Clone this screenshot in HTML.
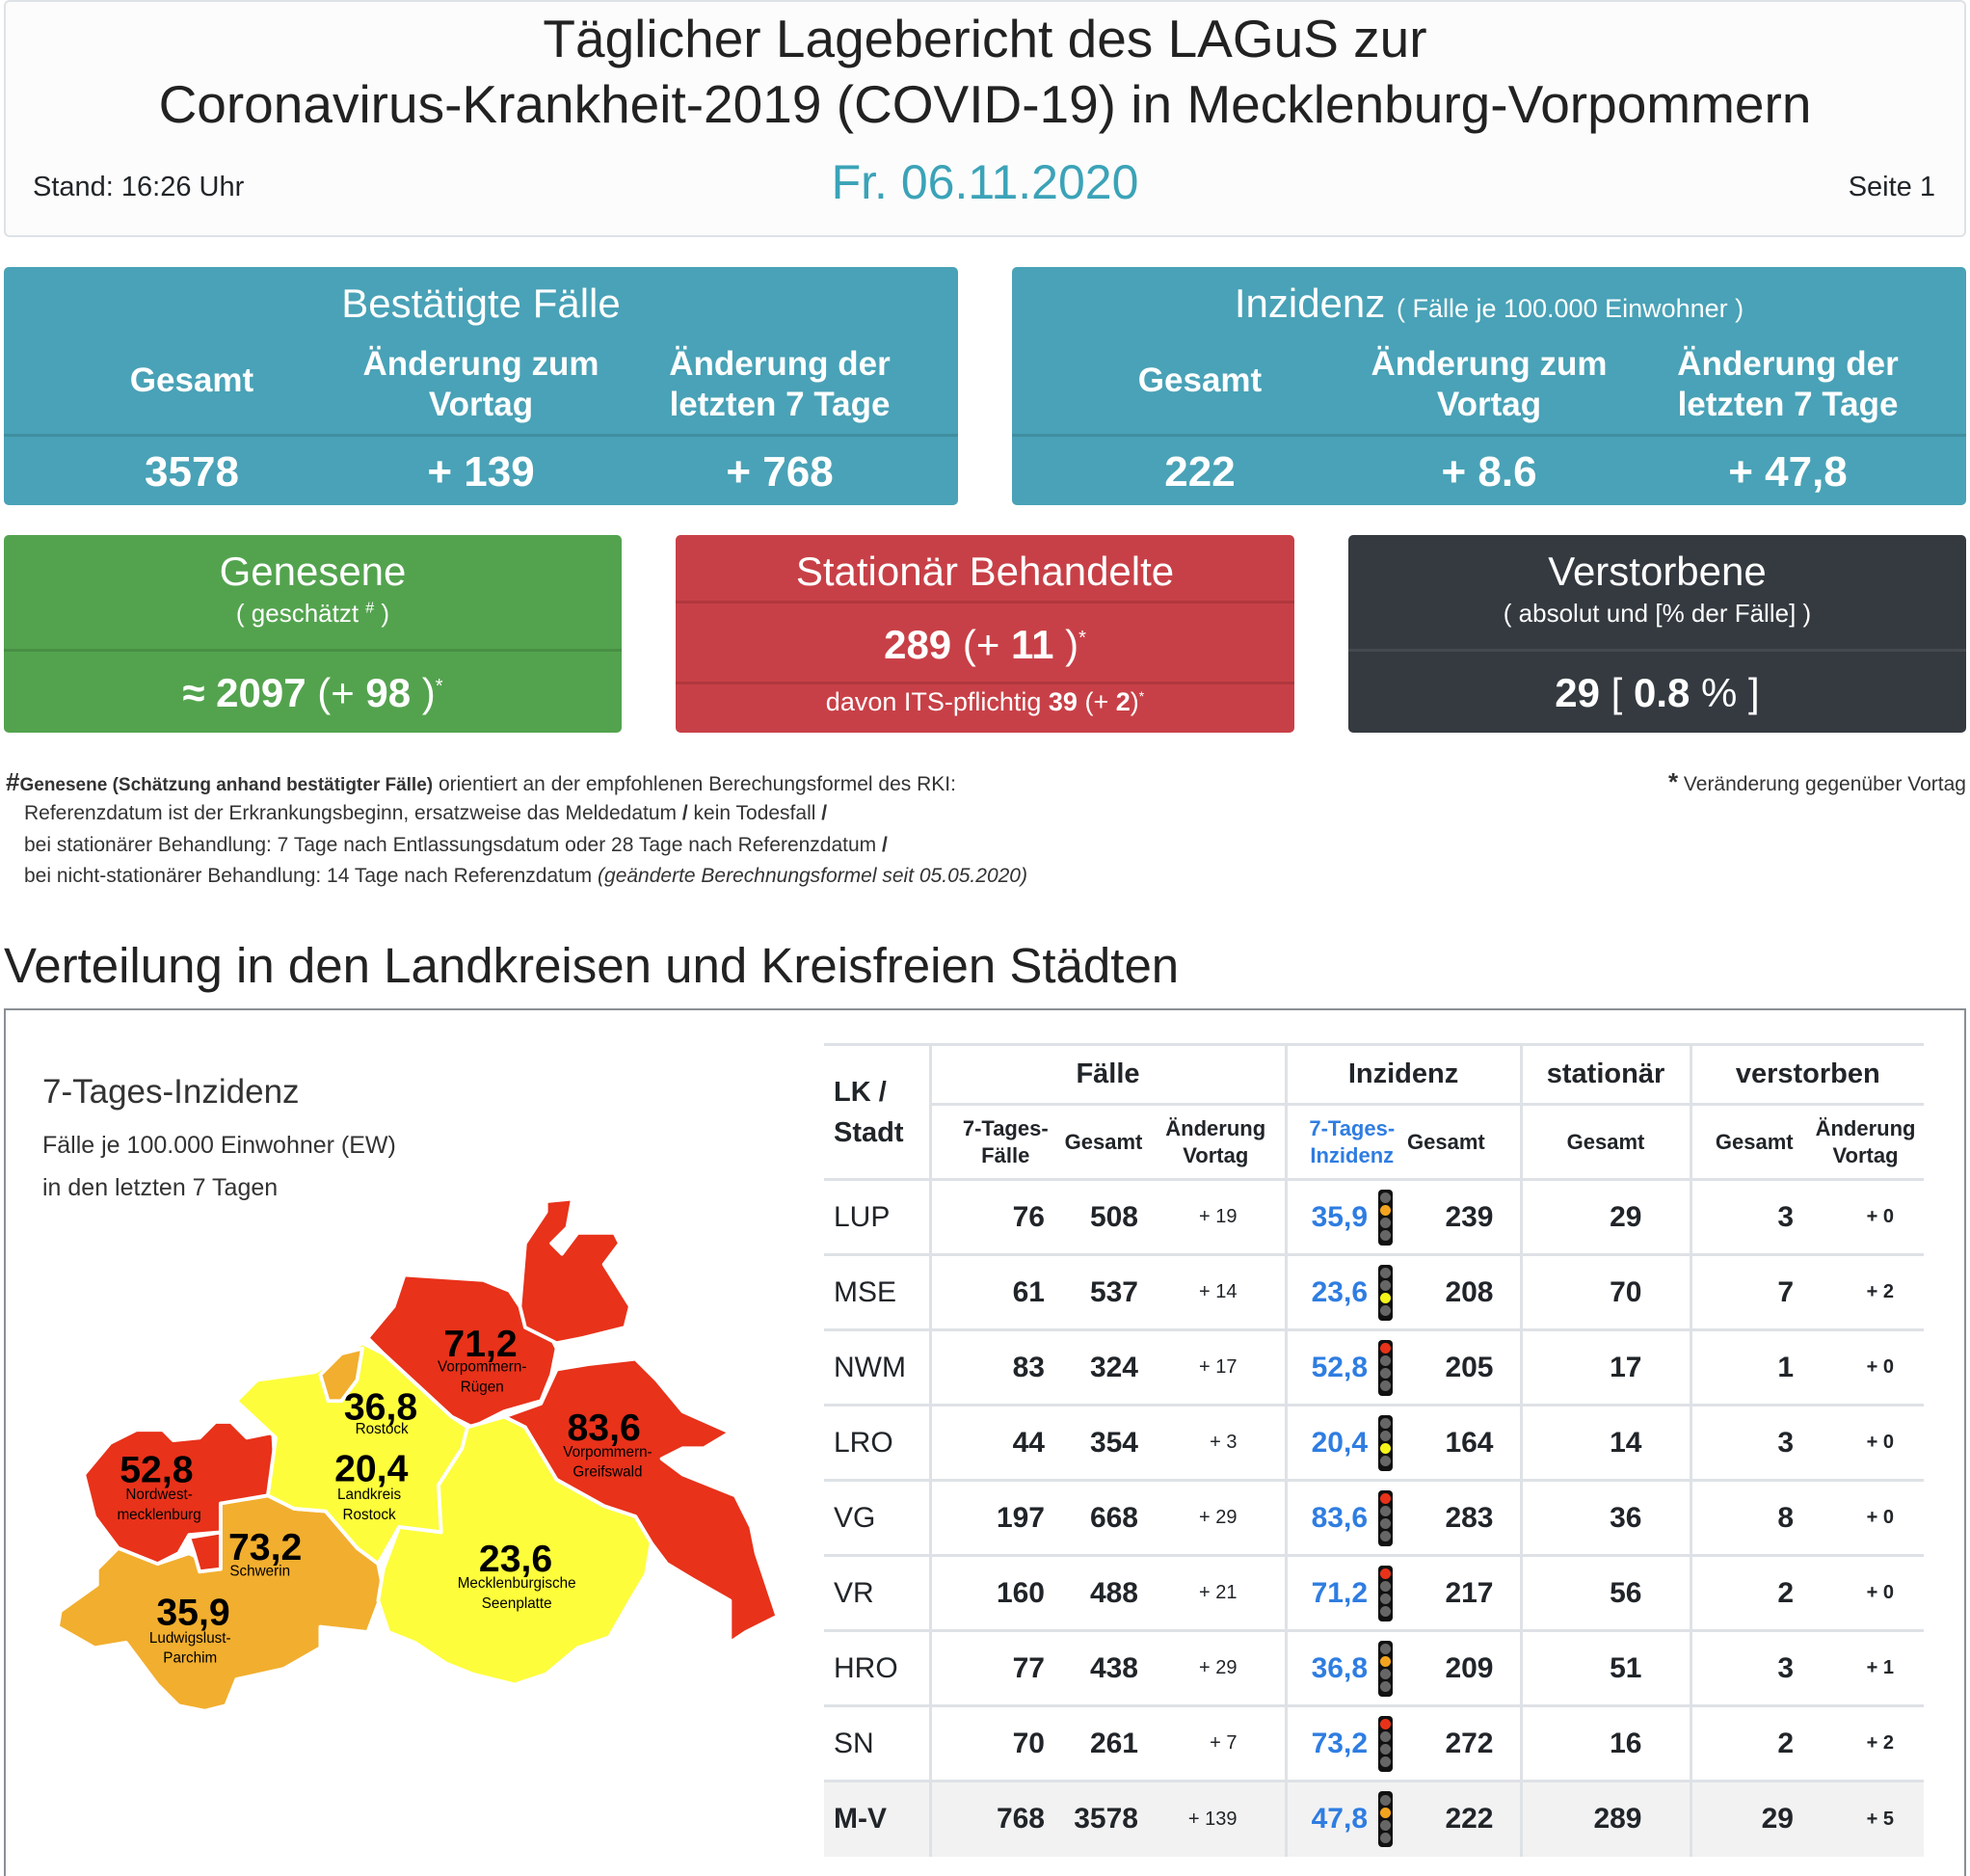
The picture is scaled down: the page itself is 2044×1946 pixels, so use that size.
<!DOCTYPE html>
<html><head><meta charset="utf-8">
<style>
*{box-sizing:border-box;margin:0;padding:0}
body{width:2044px;height:1934px;background:#fff;font-family:"Liberation Sans",sans-serif;color:#212529;position:relative;overflow:hidden}
.a{position:absolute}
.c{text-align:center}
.box{position:absolute;border-radius:5px;color:#fff}
.hl{position:absolute;left:0;right:0;height:3px;background:rgba(0,0,0,0.12)}
table{position:absolute;left:855px;top:1082px;width:1141px;border-collapse:collapse;table-layout:fixed;font-size:30px}
td,th{border-top:3px solid #dee2e6;vertical-align:middle;padding:0}
th{font-weight:bold}
td.b{font-weight:bold;text-align:right}
.vl{border-left:3px solid #dee2e6}
.tl{display:inline-block;width:15px;height:58px;background:#111;border-radius:4px;vertical-align:middle;padding:2px 2px}
.tl i{display:block;width:11px;height:11px;border-radius:50%;background:#666;margin:1.5px 0 2px}
.ft{font-size:21px;color:#333;line-height:32.7px}
</style></head><body>
<div class="a" style="left:4px;top:0;width:2036px;height:246px;border:2px solid #dee2e6;border-radius:6px;background:#fcfcfc"></div>
<div class="a c" style="left:0;top:6px;width:2044px;font-size:55px;line-height:68px;color:#222">Täglicher Lagebericht des LAGuS zur<br>Coronavirus-Krankheit-2019 (COVID-19) in Mecklenburg-Vorpommern</div>
<div class="a" style="left:34px;top:178px;font-size:29px">Stand: 16:26 Uhr</div>
<div class="a c" style="left:0;top:160px;width:2044px;font-size:50px;color:#3ba3b8">Fr. 06.11.2020</div>
<div class="a" style="right:36px;top:178px;font-size:29px">Seite 1</div>

<div class="box" style="left:4px;top:277px;width:990px;height:247px;background:#49a2b7">
<div class="a c" style="left:0;width:100%;top:14px;font-size:42px">Bestätigte Fälle</div>
<div class="a c" style="left:30px;width:330px;top:98px;font-size:35px;font-weight:bold">Gesamt</div>
<div class="a c" style="left:330px;width:330px;top:80px;font-size:35px;font-weight:bold;line-height:42px">Änderung zum<br>Vortag</div>
<div class="a c" style="left:640px;width:330px;top:80px;font-size:35px;font-weight:bold;line-height:42px">Änderung der<br>letzten 7 Tage</div>
<div class="hl" style="top:173px"></div>
<div class="a c" style="left:30px;width:330px;top:188px;font-size:44px;font-weight:bold">3578</div>
<div class="a c" style="left:330px;width:330px;top:188px;font-size:44px;font-weight:bold">+ 139</div>
<div class="a c" style="left:640px;width:330px;top:188px;font-size:44px;font-weight:bold">+ 768</div>
</div>
<div class="box" style="left:1050px;top:277px;width:990px;height:247px;background:#49a2b7">
<div class="a c" style="left:0;width:100%;top:14px;font-size:42px">Inzidenz <span style="font-size:27px">( Fälle je 100.000 Einwohner )</span></div>
<div class="a c" style="left:30px;width:330px;top:98px;font-size:35px;font-weight:bold">Gesamt</div>
<div class="a c" style="left:330px;width:330px;top:80px;font-size:35px;font-weight:bold;line-height:42px">Änderung zum<br>Vortag</div>
<div class="a c" style="left:640px;width:330px;top:80px;font-size:35px;font-weight:bold;line-height:42px">Änderung der<br>letzten 7 Tage</div>
<div class="hl" style="top:173px"></div>
<div class="a c" style="left:30px;width:330px;top:188px;font-size:44px;font-weight:bold">222</div>
<div class="a c" style="left:330px;width:330px;top:188px;font-size:44px;font-weight:bold">+ 8.6</div>
<div class="a c" style="left:640px;width:330px;top:188px;font-size:44px;font-weight:bold">+ 47,8</div>
</div>

<div class="box" style="left:4px;top:555px;width:641px;height:205px;background:#53a34e">
<div class="a c" style="left:0;width:100%;top:14px;font-size:42px">Genesene</div>
<div class="a c" style="left:0;width:100%;top:66px;font-size:26px">( geschätzt <sup style="font-size:16px">#</sup> )</div>
<div class="hl" style="top:118px"></div>
<div class="a c" style="left:0;width:100%;top:140px;font-size:42px"><b>≈ 2097</b> (+ <b>98</b> )<sup style="font-size:20px">*</sup></div>
</div>
<div class="box" style="left:701px;top:555px;width:642px;height:205px;background:#c84047">
<div class="a c" style="left:0;width:100%;top:14px;font-size:42px">Stationär Behandelte</div>
<div class="hl" style="top:68px"></div>
<div class="a c" style="left:0;width:100%;top:90px;font-size:42px"><b>289</b> (+ <b>11</b> )<sup style="font-size:20px">*</sup></div>
<div class="hl" style="top:152px"></div>
<div class="a c" style="left:0;width:100%;top:158px;font-size:27px">davon ITS-pflichtig <b>39</b> (+ <b>2</b>)<sup style="font-size:14px">*</sup></div>
</div>
<div class="box" style="left:1399px;top:555px;width:641px;height:205px;background:#343a40">
<div class="a c" style="left:0;width:100%;top:14px;font-size:42px">Verstorbene</div>
<div class="a c" style="left:0;width:100%;top:66px;font-size:26px">( absolut und [% der Fälle] )</div>
<div class="hl" style="top:118px;background:rgba(255,255,255,0.08)"></div>
<div class="a c" style="left:0;width:100%;top:140px;font-size:42px"><b>29</b> [ <b>0.8</b> % ]</div>
</div>

<div class="a ft" style="left:6px;top:795px"><b style="font-size:26px">#</b><b style="font-size:19px">Genesene (Schätzung anhand bestätigter Fälle)</b> orientiert an der empfohlenen Berechungsformel des RKI:</div>
<div class="a ft" style="left:25px;top:828px">Referenzdatum ist der Erkrankungsbeginn, ersatzweise das Meldedatum <b>/</b> kein Todesfall <b>/</b><br>bei stationärer Behandlung: 7 Tage nach Entlassungsdatum oder 28 Tage nach Referenzdatum <b>/</b><br>bei nicht-stationärer Behandlung: 14 Tage nach Referenzdatum <i>(geänderte Berechnungsformel seit 05.05.2020)</i></div>
<div class="a ft" style="right:4px;top:795px"><b style="font-size:26px">*</b> Veränderung gegenüber Vortag</div>

<div class="a" style="left:4px;top:972px;font-size:51px;color:#222">Verteilung in den Landkreisen und Kreisfreien Städten</div>
<div class="a" style="left:4px;top:1046px;width:2036px;height:900px;border:2px solid #8a8f94;border-bottom:none"></div>

<div class="a" style="left:44px;top:1113px;font-size:35px;color:#333">7-Tages-Inzidenz</div>
<div class="a" style="left:44px;top:1166px;font-size:25px;color:#333;line-height:44px">Fälle je 100.000 Einwohner (EW)<br>in den letzten 7 Tagen</div>

<svg class="a" style="left:0;top:0" width="2044" height="1934">
<g transform="translate(0,1050) scale(0.5449)" stroke="#fff" stroke-width="7" stroke-linejoin="round">
<polygon fill="#f2ae2e" points="110,1170 115,1140 185,1090 185,1060 225,1020 300,1050 360,1030 420,1060 420,935 510,920 560,945 620,950 680,1020 720,1050 730,1100 700,1180 610,1170 610,1210 540,1250 450,1270 430,1320 390,1330 340,1320 300,1280 240,1200 180,1210"/>
<polygon fill="#e8321a" points="160,880 210,820 260,795 310,795 330,815 380,810 410,780 440,780 470,810 520,800 525,900 510,920 420,935 420,990 360,995 340,1030 300,1050 225,1020 180,960"/>
<polygon fill="#e8321a" points="360,1000 420,990 420,1060 380,1065 370,1030"/>
<polygon fill="#fdfd3c" points="450,740 490,700 600,685 640,660 690,630 730,650 860,770 890,790 880,830 835,900 840,990 760,980 720,1050 680,1020 620,950 560,945 510,920 525,810"/>
<polygon fill="#f2ae2e" points="610,690 650,650 690,640 680,700 650,740 625,740"/>
<polygon fill="#e8321a" points="700,620 750,560 770,500 920,510 970,530 990,560 1040,600 1060,640 1050,690 1030,740 960,760 900,790 860,770 730,650"/>
<polygon fill="#e8321a" points="990,560 1000,440 1040,380 1040,360 1090,355 1080,410 1050,440 1070,460 1100,420 1170,420 1180,440 1150,480 1200,560 1190,600 1110,620 1060,630 1000,600"/>
<polygon fill="#e8321a" points="960,770 1030,745 1060,680 1120,670 1210,660 1250,700 1300,760 1390,800 1340,830 1300,830 1260,850 1300,880 1400,920 1430,980 1440,1030 1460,1090 1480,1150 1420,1180 1390,1200 1390,1120 1320,1080 1270,1050 1240,1010 1210,960 1150,940 1060,890 1030,840 1000,790"/>
<polygon fill="#fdfd3c" points="890,790 960,770 1000,790 1030,840 1060,890 1150,940 1210,960 1240,1010 1230,1070 1200,1120 1160,1190 1100,1210 1040,1260 980,1280 900,1260 850,1240 790,1200 740,1180 720,1120 730,1060 760,980 840,990 835,900 880,830"/>
</g>
<g transform="translate(0,1050) scale(0.5449)" font-family="Liberation Sans,sans-serif" text-anchor="middle" fill="#000">
<g font-size="72" font-weight="bold">
<text x="915" y="655">71,2</text><text x="725" y="775">36,8</text><text x="1150" y="815">83,6</text>
<text x="298" y="895">52,8</text><text x="707" y="893">20,4</text><text x="505" y="1042">73,2</text>
<text x="982" y="1064">23,6</text><text x="368" y="1166">35,9</text></g>
<g font-size="28">
<text x="918" y="684">Vorpommern-</text><text x="918" y="722">Rügen</text>
<text x="727" y="802">Rostock</text>
<text x="1157" y="846">Vorpommern-</text><text x="1157" y="884">Greifswald</text>
<text x="303" y="927">Nordwest-</text><text x="303" y="965">mecklenburg</text>
<text x="703" y="927">Landkreis</text><text x="703" y="965">Rostock</text>
<text x="495" y="1073">Schwerin</text>
<text x="984" y="1096">Mecklenburgische</text><text x="984" y="1134">Seenplatte</text>
<text x="362" y="1200">Ludwigslust-</text><text x="362" y="1238">Parchim</text></g>
</g>
</svg>

<table>
<colgroup><col style="width:110px"><col style="width:135px"><col style="width:90px"><col style="width:144px"><col style="width:96px"><col style="width:30px"><col style="width:118px"><col style="width:176px"><col style="width:121px"><col style="width:121px"></colgroup>
<tr style="height:62px;font-size:29px"><th rowspan="2" style="text-align:left;padding-left:10px;line-height:42px">LK /<br>Stadt</th><th colspan="3" class="vl">Fälle</th><th colspan="3" class="vl">Inzidenz</th><th class="vl">stationär</th><th colspan="2" class="vl">verstorben</th></tr>
<tr style="height:77px;font-size:22px;line-height:28px"><th class="vl" style="padding-left:20px">7-Tages-<br>Fälle</th><th>Gesamt</th><th>Änderung<br>Vortag</th><th class="vl" style="color:#2f7de1;padding-left:10px" colspan="2">7-Tages-<br>Inzidenz</th><th style="text-align:left;padding-left:0">Gesamt</th><th class="vl">Gesamt</th><th class="vl" style="padding-left:10px">Gesamt</th><th>Änderung<br>Vortag</th></tr>
</table>
<table style="top:1222px">
<colgroup><col style="width:110px"><col style="width:135px"><col style="width:90px"><col style="width:144px"><col style="width:96px"><col style="width:30px"><col style="width:118px"><col style="width:176px"><col style="width:121px"><col style="width:121px"></colgroup>
<tbody id="tb"></tbody>
</table>
<script>
var d=[["LUP",76,508,19,"35,9",1,239,29,3,0],["MSE",61,537,14,"23,6",2,208,70,7,2],["NWM",83,324,17,"52,8",0,205,17,1,0],["LRO",44,354,3,"20,4",2,164,14,3,0],["VG",197,668,29,"83,6",0,283,36,8,0],["VR",160,488,21,"71,2",0,217,56,2,0],["HRO",77,438,29,"36,8",1,209,51,3,1],["SN",70,261,7,"73,2",0,272,16,2,2],["M-V",768,3578,139,"47,8",1,222,289,29,5]];
var cols=["#e8321a","#f2a41f","#f5f51a"],h="";
d.forEach(function(r,i){var L="";for(var k=0;k<4;k++){L+='<i style="background:'+(k==r[5]?cols[k]:"#666")+'"></i>';}
var mv=i==8;
h+='<tr style="height:78px'+(mv?';background:#f2f2f2':'')+'"><td style="padding-left:10px;'+(mv?'font-weight:bold':'')+'">'+r[0]+'</td>'+
'<td class="b vl" style="padding-right:16px">'+r[1]+'</td><td class="b" style="padding-right:9px">'+r[2]+'</td>'+
'<td style="text-align:right;padding-right:49px;font-size:20px">+ '+r[3]+'</td>'+
'<td class="vl" style="text-align:right;padding-right:11px;color:#2f7de1;font-weight:bold">'+r[4]+'</td><td>'+'<span class="tl">'+L+'</span></td>'+
'<td class="b" style="padding-right:27px">'+r[6]+'</td><td class="b vl" style="padding-right:49px">'+r[7]+'</td>'+
'<td class="b vl" style="padding-right:14px">'+r[8]+'</td><td style="text-align:right;padding-right:31px;font-size:20px;font-weight:bold">+ '+r[9]+'</td></tr>';});
document.getElementById("tb").innerHTML=h;
</script>
</body></html>
